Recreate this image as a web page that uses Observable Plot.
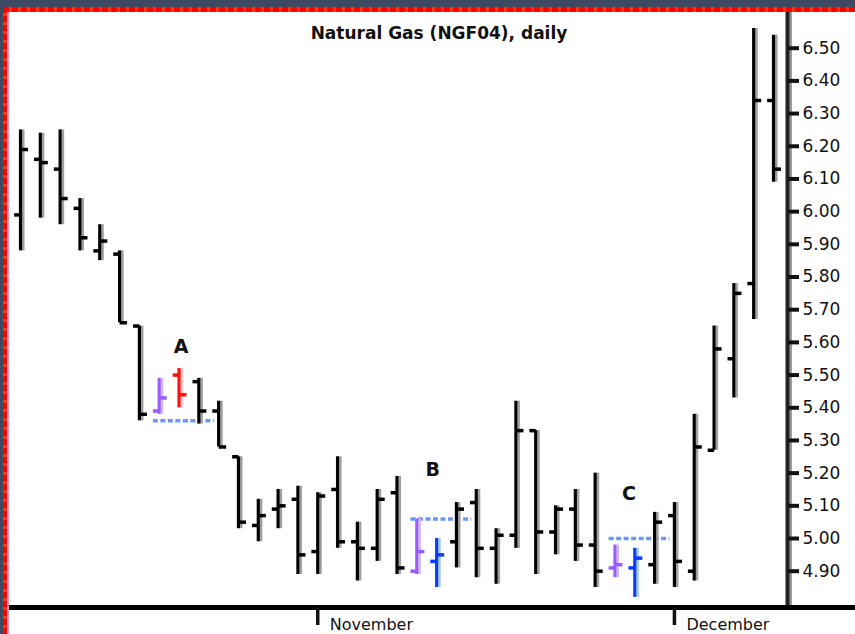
<!DOCTYPE html>
<html>
<head>
<meta charset="utf-8">
<script src="https://cdn.jsdelivr.net/npm/d3@7"></script>
<script src="https://cdn.jsdelivr.net/npm/@observablehq/plot@0.6"></script>
<style>
  html, body { margin: 0; padding: 0; background: #fff; }
  #wrap { position: relative; width: 855px; height: 634px; overflow: hidden; }
  .deco { position: absolute; }
</style>
</head>
<body>
<div id="wrap"></div>
<script>
// ---- data ----
const title = "Natural Gas (NGF04), daily";
const barIndex = d3.range(39); // trading-day index, mid Oct 2003 .. mid Dec 2003
const open  = [5.99,6.16,6.13,6.01,5.88,5.87,5.65,5.39,5.50,5.48,5.39,5.25,5.04,5.09,5.12,4.96,5.15,4.99,4.97,5.14,4.90,4.93,4.99,5.11,4.97,5.01,5.33,5.02,5.09,4.98,4.91,4.91,4.92,5.07,4.90,5.27,5.55,5.78,6.34];
const high  = [6.25,6.24,6.25,6.04,5.96,5.88,5.65,5.49,5.52,5.49,5.42,5.25,5.12,5.15,5.16,5.14,5.25,5.05,5.15,5.19,5.06,5.00,5.11,5.15,5.03,5.42,5.33,5.10,5.15,5.20,4.98,4.97,5.08,5.11,5.38,5.65,5.78,6.56,6.54];
const low   = [5.88,5.98,5.96,5.88,5.85,5.66,5.36,5.38,5.40,5.35,5.28,5.03,4.99,5.03,4.89,4.89,4.97,4.87,4.93,4.89,4.89,4.85,4.91,4.88,4.86,4.97,4.89,4.95,4.93,4.85,4.88,4.82,4.86,4.85,4.87,5.27,5.43,5.67,6.09];
const close = [6.19,6.15,6.04,5.92,5.91,5.66,5.38,5.43,5.44,5.39,5.28,5.05,5.07,5.10,4.95,5.13,4.99,4.97,5.12,4.91,4.96,4.95,5.09,4.97,5.01,5.33,5.02,5.09,4.98,4.90,4.92,4.94,5.05,4.93,5.28,5.58,5.75,6.34,6.13];
// pattern role of each bar
const role = barIndex.map(i => ({7:"setup", 8:"sell", 20:"setup", 21:"buy", 30:"setup", 31:"buy"})[i] || "normal");

const levelName = ["A", "B", "C"];
const levelValue = [5.36, 5.06, 5.00];
const levelFromBar = [7, 20, 30];
const levelToBar = [9, 22, 32];
const labelBar = [8.1, 20.8, 30.7];
const labelValue = [5.585, 5.21, 5.135];

const monthTickBar = [15, 33];
const monthLabels = ["November", "December"];
const yTicks = d3.range(49, 66).map(v => v / 10); // 4.90 .. 6.50

// ---- build tables ----
const bars = barIndex.map(i => ({i, open: open[i], high: high[i], low: low[i], close: close[i], role: role[i]}));
const levels = levelName.map((n, k) => ({n, v: levelValue[k], from: levelFromBar[k], to: levelToBar[k]}));
const labels = levelName.map((n, k) => ({n, x: labelBar[k], y: labelValue[k]}));

const roleColor = {domain: ["normal", "setup", "sell", "buy"], range: ["#000000", "#9a5cff", "#ff1010", "#0a3cff"]};
const shadeColor = {normal: "#a0a0a0", setup: "#d2b6ff", sell: "#ffc8c8", buy: "#9fc8ff"};

const plot = Plot.plot({
  width: 855,
  height: 634,
  marginLeft: 8,
  marginRight: 68,
  marginTop: 10,
  marginBottom: 27,
  x: {domain: [0, 38], range: [20, 773]},
  y: {domain: [4.90, 6.50], range: [570.7, 47.7]},
  color: roleColor,
  style: {fontFamily: "DejaVu Sans, Verdana, sans-serif", fontSize: "16px", color: "#111", background: "#fff", overflow: "visible"},
  marks: [
    // support / resistance dashed levels
    Plot.link(levels, {x1: d => d.from - 0.32, x2: d => d.to + 0.75, y1: "v", y2: "v", stroke: "#6b96ff", strokeWidth: 3.5, strokeDasharray: "5,2.5"}),
    // bar shading
    Plot.ruleX(bars, {x: "i", y1: "low", y2: "high", stroke: d => shadeColor[d.role], strokeWidth: 2.5, dx: 2.8}),
    // high-low
    Plot.ruleX(bars, {x: "i", y1: "low", y2: "high", stroke: "role", strokeWidth: 3.2}),
    // open (left) and close (right) ticks
    Plot.link(bars, {x1: d => d.i - 0.32, x2: "i", y1: "open", y2: "open", stroke: "role", strokeWidth: 3.5}),
    Plot.link(bars, {x1: "i", x2: d => d.i + 0.38, y1: "close", y2: "close", stroke: "role", strokeWidth: 3.5}),
    // pattern labels
    Plot.text(labels, {x: "x", y: "y", text: "n", fontSize: 19, fontWeight: "bold", fill: "#111"}),
    // title
    Plot.text([title], {frameAnchor: "top", dx: 41, dy: 16, lineAnchor: "top", fontSize: 17, fontWeight: "bold", fill: "#111"}),
    // axes lines
    Plot.frame({anchor: "right", stroke: "#9a9a9a", strokeWidth: 3, dx: 3}),
    Plot.frame({anchor: "right", stroke: "#222", strokeWidth: 4}),
    Plot.frame({anchor: "bottom", stroke: "#000", strokeWidth: 4.5, shapeRendering: "crispEdges"}),
    Plot.frame({anchor: "bottom", stroke: "#000", strokeWidth: 4.5, dx: 68, shapeRendering: "crispEdges"}),
    Plot.axisY({anchor: "right", ticks: yTicks, tickFormat: d3.format(".2f"), tickSize: 11, tickPadding: 4, strokeWidth: 4, fontSize: 17, fill: "#111"}),
    // month ticks and labels
    Plot.axisX({anchor: "bottom", ticks: monthTickBar, tickFormat: null, text: null, tickSize: 18, strokeWidth: 3.5}),
    Plot.axisX({anchor: "bottom", ticks: monthTickBar, tickFormat: d => monthLabels[monthTickBar.indexOf(d)], tickSize: 0, tickPadding: 11, textAnchor: "start", dx: 12, fontSize: 16, fill: "#111"})
  ]
});

const wrap = document.getElementById("wrap");
wrap.appendChild(plot);
// window frame decoration (dark strip + red dashed border at top and left)
const deco = [
  {left: 0, top: 0, width: 855, height: 7, bg: "#3e4a62"},
  {left: 0, top: 0, width: 3, height: 634, bg: "#3e4a62"},
  {left: 3, top: 7, width: 852, height: 5, bg: "repeating-linear-gradient(90deg,#ff0000 0 6px,#ff3a12 6px 9px)"},
  {left: 3, top: 7, width: 4, height: 627, bg: "repeating-linear-gradient(180deg,#ff0000 0 6px,#ff3a12 6px 9px)"},
  {left: 7, top: 12, width: 2, height: 622, bg: "#ff9ab8"}
];
for (const d of deco) {
  const el = document.createElement("div");
  el.className = "deco";
  Object.assign(el.style, {left: d.left + "px", top: d.top + "px", width: d.width + "px", height: d.height + "px", background: d.bg});
  wrap.appendChild(el);
}
</script>
</body>
</html>
